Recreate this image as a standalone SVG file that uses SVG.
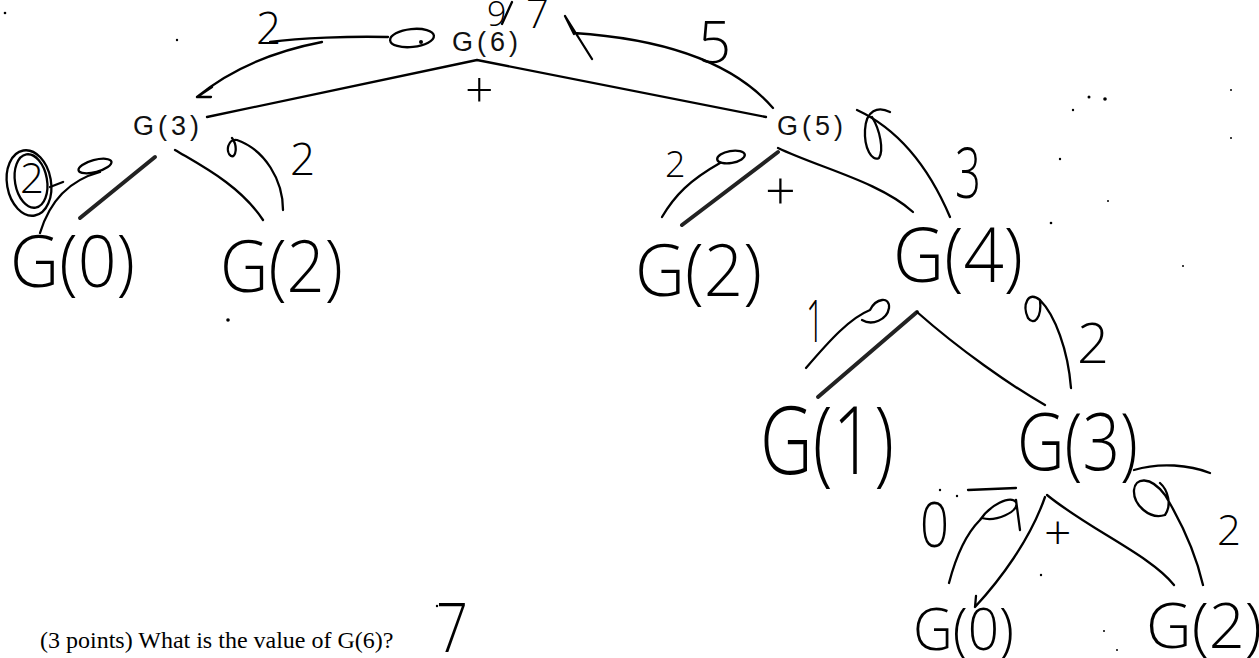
<svg xmlns="http://www.w3.org/2000/svg" width="1259" height="658" viewBox="0 0 1259 658">
<style>
.pr{font-family:"Liberation Sans",Arial,sans-serif;font-size:27px;letter-spacing:4px;fill:#111}
.hw{font-family:"Open Sans","DejaVu Sans",sans-serif;font-weight:300;fill:#000}
.q{font-family:"Liberation Serif","Times New Roman",serif;font-size:24px;fill:#000}
.c{fill:none;stroke:#000;stroke-width:2.3;stroke-linecap:round;stroke-linejoin:round}
.h{fill:none;stroke:#222;stroke-width:4;stroke-linecap:round}
.dot{fill:#000}
</style>
<rect width="1259" height="658" fill="#fff"/>
<g id="connectors">
  <polyline class="c" points="207,117 477,60 766,117" stroke-width="1.8"/>
  <line class="h" x1="155" y1="157" x2="80" y2="218"/>
  <path class="c" d="M175,150 C200,165 240,185 263,220"/>
  <line class="h" x1="778" y1="152" x2="682" y2="225"/>
  <path class="c" d="M778,148 C820,168 880,182 913,212"/>
  <line class="h" x1="917" y1="312" x2="818" y2="397"/>
  <path class="c" d="M917,312 C960,350 1010,385 1045,405"/>
  <path class="c" d="M1045,497 C1030,540 1000,580 975,607 M975,607 L976,596"/>
  <path class="c" d="M1047,495 C1090,530 1150,555 1174,585"/>
  <path class="c" d="M270,42 C300,38 350,36 388,37"/>
  <ellipse class="c" cx="412" cy="38" rx="22" ry="9" transform="rotate(-6 412 38)"/>
  <circle class="dot" cx="421" cy="42" r="2"/>
  <path class="c" d="M322,42 C270,52 230,70 197,97 M197,97 L212,87 M197,97 L211,97"/>
  <path class="c" d="M773,108 C740,70 680,40 574,33 M592,59 L565,16 L574,34"/>
  <path class="c" d="M283,210 C283,180 265,150 237,140 C228,138 225,152 231,156 C236,158 238,146 232,138"/>
  <path class="c" d="M40,233 C50,200 70,180 100,172"/>
  <ellipse class="c" cx="95" cy="166" rx="17" ry="6" transform="rotate(-15 95 166)" stroke-width="3"/>
  <ellipse class="c" cx="29" cy="183" rx="22" ry="33" transform="rotate(-10 29 183)" stroke-width="3.5"/>
  <ellipse class="c" cx="31" cy="181" rx="16" ry="27" transform="rotate(-10 31 181)" stroke-width="2"/>
  <path class="c" d="M50,187 L63,182"/>
  <path class="c" d="M662,217 C675,195 690,180 720,163"/>
  <ellipse class="c" cx="731" cy="157" rx="14" ry="6" transform="rotate(-10 731 157)" stroke-width="3"/>
  <path class="c" d="M950,217 C930,170 900,130 857,110"/>
  <path class="c" d="M890,112 C878,106 866,110 865,130 C864,148 872,162 879,158 C884,150 880,130 872,117"/>
  <path class="c" d="M806,368 C830,340 850,318 870,310 C876,298 890,296 889,308 C887,320 872,326 862,320"/>
  <path class="c" d="M1071,388 C1068,350 1055,315 1040,300 C1028,290 1022,305 1028,318 C1034,326 1042,318 1040,300"/>
  <path class="c" d="M949,583 C955,560 965,535 980,520 C990,505 1010,495 1016,502 C1020,512 995,522 982,518 M1016,500 L1020,530"/>
  <path class="c" d="M968,490 L1016,488" stroke-width="1.2"/>
  <path class="c" d="M1203,585 C1195,550 1180,520 1165,495 C1150,475 1135,478 1134,490 C1133,505 1150,520 1165,515 C1172,505 1168,490 1160,483"/>
  <path class="c" d="M1134,470 C1160,462 1190,465 1210,473" stroke-width="1.6"/>
</g>
<g id="n-G6"><text class="pr" x="452" y="51">G(6)</text></g>
<g id="n-G3"><text class="pr" x="133" y="135">G(3)</text></g>
<g id="n-G5"><text class="pr" x="777" y="135">G(5)</text></g>
<g id="n-G0a"><text class="hw" x="10" y="287" font-size="72" textLength="125" lengthAdjust="spacingAndGlyphs">G(0)</text></g>
<g id="n-G2a"><text class="hw" x="220" y="292" font-size="72" textLength="123" lengthAdjust="spacingAndGlyphs">G(2)</text></g>
<g id="n-G2b"><text class="hw" x="635" y="296" font-size="72" textLength="127" lengthAdjust="spacingAndGlyphs">G(2)</text></g>
<g id="n-G4"><text class="hw" x="893" y="282" font-size="76" textLength="130" lengthAdjust="spacingAndGlyphs">G(4)</text></g>
<g id="n-G1"><text class="hw" x="760" y="474" font-size="94" textLength="134" lengthAdjust="spacingAndGlyphs">G(1)</text></g>
<g id="n-G3b"><text class="hw" x="1017" y="470" font-size="80" textLength="121" lengthAdjust="spacingAndGlyphs">G(3)</text></g>
<g id="n-G0b"><text class="hw" x="913" y="650" font-size="58" textLength="101" lengthAdjust="spacingAndGlyphs">G(0)</text></g>
<g id="n-G2c"><text class="hw" x="1146" y="648" font-size="62" textLength="116" lengthAdjust="spacingAndGlyphs">G(2)</text></g>
<g id="labels">
  <text class="hw" x="256" y="44" font-size="44">2</text>
  <text class="hw" x="487" y="26" font-size="34">9</text>
  <path class="c" d="M502,24 L512,2"/>
  <text class="hw" x="526" y="28" font-size="40">7</text>
  <text class="hw" x="698" y="63" font-size="58">5</text>
  <text class="hw" x="465" y="108" font-size="50">+</text>
  <text class="hw" x="20" y="193" font-size="42" font-weight="700">2</text>
  <text class="hw" x="290" y="175" font-size="44">2</text>
  <text class="hw" x="665" y="177" font-size="36">2</text>
  <text class="hw" x="765" y="210" font-size="54">+</text>
  <text class="hw" x="955" y="198" font-size="70" textLength="26" lengthAdjust="spacingAndGlyphs">3</text>
  <text class="hw" x="806" y="342" font-size="58" textLength="18" lengthAdjust="spacingAndGlyphs">1</text>
  <text class="hw" x="1077" y="363" font-size="56">2</text>
  <text class="hw" x="920" y="547" font-size="62" textLength="29" lengthAdjust="spacingAndGlyphs">0</text>
  <text class="hw" x="1044" y="550" font-size="48">+</text>
  <text class="hw" x="1217" y="545" font-size="42">2</text>
  <text class="q" x="40" y="648">(3 points) What is the value of G(6)?</text>
  <text class="hw" x="436" y="652" font-size="68" textLength="32" lengthAdjust="spacingAndGlyphs">7</text>
</g>
<g id="specks" class="dot">
  <circle cx="5" cy="13" r="1.3"/><circle cx="177" cy="40" r="1.2"/>
  <circle cx="1089" cy="97" r="1.5"/><circle cx="1105" cy="99" r="1.8"/>
  <circle cx="1073" cy="110" r="1.2"/><circle cx="1060" cy="159" r="1.2"/>
  <circle cx="1051" cy="223" r="1.3"/><circle cx="1231" cy="90" r="1"/>
  <circle cx="1231" cy="138" r="1"/><circle cx="1108" cy="201" r="1"/>
  <circle cx="1183" cy="266" r="1"/><circle cx="228" cy="320" r="1.8"/>
  <circle cx="940" cy="490" r="1.2"/><circle cx="957" cy="496" r="1.2"/>
  <circle cx="1041" cy="575" r="1.2"/><circle cx="1117" cy="650" r="1"/>
  <circle cx="1104" cy="631" r="1"/><circle cx="437" cy="606" r="1.2"/>
</g>
</svg>
